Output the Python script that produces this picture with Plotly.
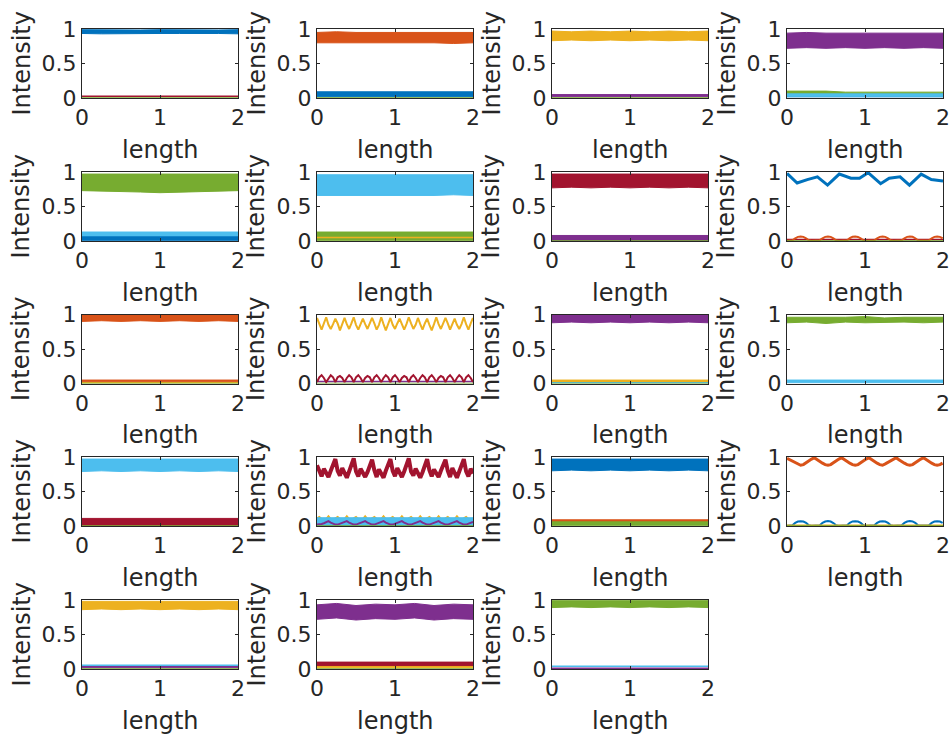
import numpy as np
import plotly.graph_objects as go

BLUE, ORANGE, YELLOW, PURPLE = "#0072BD", "#D95319", "#EDB120", "#7E2F8E"
GREEN, CYAN, RED = "#77AC30", "#4DBEEE", "#A2142F"

# sample positions
x_env = [0, 0.25, 0.5, 0.75, 1.0, 1.25, 1.5, 1.75, 2.0]
x_f69 = list(np.linspace(0, 2, 69))
x_f58 = list(np.linspace(0, 1.995, 58))

# ---------- noisy-band envelopes (upper / lower) ----------
p01_blue_hi = [0.99, 0.985, 0.99, 0.985, 0.99, 0.985, 0.99, 0.985, 0.99]
p01_blue_lo = [0.935, 0.93, 0.935, 0.93, 0.935, 0.935, 0.93, 0.935, 0.93]
p01_red = [0.025, 0.025, 0.025, 0.025, 0.025, 0.025, 0.025, 0.025, 0.025]
p01_green = [0, 0, 0, 0, 0, 0, 0, 0, 0]

p02_orange_hi = [0.95, 0.96, 0.95, 0.95, 0.96, 0.95, 0.95, 0.96, 0.95]
p02_orange_lo = [0.80, 0.79, 0.80, 0.80, 0.79, 0.80, 0.80, 0.79, 0.80]
p02_blue_hi = [0.09, 0.09, 0.09, 0.09, 0.09, 0.09, 0.09, 0.09, 0.09]
p02_blue_lo = [0.02, 0.02, 0.02, 0.02, 0.02, 0.02, 0.02, 0.02, 0.02]
p02_green = [0, 0, 0, 0, 0, 0, 0, 0, 0]

p03_yellow_hi = [0.97, 0.96, 0.97, 0.96, 0.97, 0.96, 0.97, 0.96, 0.97]
p03_yellow_lo = [0.83, 0.84, 0.83, 0.84, 0.83, 0.84, 0.83, 0.84, 0.83]
p03_purple_hi = [0.05, 0.05, 0.05, 0.05, 0.05, 0.05, 0.05, 0.05, 0.05]
p03_purple_lo = [0.02, 0.02, 0.02, 0.02, 0.02, 0.02, 0.02, 0.02, 0.02]
p03_green = [0, 0, 0, 0, 0, 0, 0, 0, 0]

p04_purple_hi = [0.94, 0.95, 0.94, 0.94, 0.95, 0.94, 0.94, 0.95, 0.94]
p04_purple_lo = [0.72, 0.73, 0.72, 0.73, 0.72, 0.73, 0.72, 0.73, 0.72]
p04_green_hi = [0.10, 0.10, 0.10, 0.085, 0.085, 0.085, 0.085, 0.085, 0.085]
p04_green_lo = [0.04, 0.04, 0.04, 0.04, 0.04, 0.04, 0.04, 0.04, 0.04]
p04_cyan_hi = [0.06, 0.06, 0.06, 0.06, 0.06, 0.06, 0.06, 0.06, 0.06]
p04_cyan_lo = [0.02, 0.02, 0.02, 0.02, 0.02, 0.02, 0.02, 0.02, 0.02]
p04_blue = [0.02, 0.02, 0.02, 0.02, 0.02, 0.02, 0.02, 0.02, 0.02]

p05_green_hi = [0.97, 0.97, 0.96, 0.96, 0.96, 0.96, 0.96, 0.97, 0.97]
p05_green_lo = [0.73, 0.72, 0.72, 0.71, 0.70, 0.70, 0.71, 0.72, 0.73]
p05_cyan_hi = [0.13, 0.13, 0.13, 0.13, 0.13, 0.13, 0.13, 0.13, 0.13]
p05_cyan_lo = [0.02, 0.02, 0.02, 0.02, 0.02, 0.02, 0.02, 0.02, 0.02]
p05_blue_hi = [0.06, 0.06, 0.06, 0.06, 0.06, 0.06, 0.06, 0.06, 0.06]
p05_blue_lo = [0.01, 0.01, 0.01, 0.01, 0.01, 0.01, 0.01, 0.01, 0.01]

p06_cyan_hi = [0.96, 0.96, 0.95, 0.96, 0.96, 0.95, 0.96, 0.96, 0.96]
p06_cyan_lo = [0.66, 0.67, 0.66, 0.66, 0.67, 0.66, 0.66, 0.67, 0.66]
p06_green_hi = [0.13, 0.13, 0.12, 0.12, 0.13, 0.12, 0.12, 0.13, 0.13]
p06_green_lo = [0.01, 0.01, 0.01, 0.01, 0.01, 0.01, 0.01, 0.01, 0.01]
p06_yellow = [0.05, 0.05, 0.05, 0.05, 0.05, 0.05, 0.05, 0.05, 0.05]

p07_red_hi = [0.97, 0.97, 0.97, 0.97, 0.97, 0.97, 0.97, 0.97, 0.97]
p07_red_lo = [0.77, 0.78, 0.77, 0.78, 0.77, 0.78, 0.77, 0.78, 0.77]
p07_purple_hi = [0.08, 0.08, 0.08, 0.08, 0.08, 0.08, 0.08, 0.08, 0.08]
p07_purple_lo = [0.01, 0.01, 0.01, 0.01, 0.01, 0.01, 0.01, 0.01, 0.01]
p07_green = [0, 0, 0, 0, 0, 0, 0, 0, 0]

# subplot 8: wavy blue trace and periodic orange humps
p08_blue_x = [0, 0.13, 0.26, 0.39, 0.52, 0.67, 0.82, 0.93, 1.04, 1.2, 1.31, 1.45, 1.57, 1.72, 1.85, 2.0]
p08_blue = [0.98, 0.84, 0.89, 0.93, 0.81, 0.97, 0.91, 0.91, 0.99, 0.83, 0.91, 0.93, 0.81, 0.97, 0.89, 0.87]
p08_orange = [0.005, 0.005, 0.01, 0.04, 0.06, 0.065, 0.06, 0.04, 0.01, 0.005,
              0.005, 0.006, 0.012, 0.04, 0.06, 0.066, 0.06, 0.038, 0.01, 0.005,
              0.005, 0.005, 0.01, 0.041, 0.061, 0.065, 0.059, 0.04, 0.011, 0.005,
              0.006, 0.005, 0.01, 0.04, 0.06, 0.064, 0.06, 0.04, 0.01, 0.005,
              0.005, 0.005, 0.011, 0.039, 0.06, 0.065, 0.061, 0.04, 0.01, 0.006,
              0.005, 0.005, 0.01, 0.04, 0.06, 0.065, 0.06, 0.04]
p08_red = [0.02, 0.02, 0.02, 0.02, 0.02, 0.02, 0.02, 0.02, 0.02]
p08_green = [0, 0, 0, 0, 0, 0, 0, 0, 0]

p09_orange_hi = [0.995, 0.995, 0.995, 0.995, 0.995, 0.995, 0.995, 0.995, 0.995]
p09_orange_lo = [0.90, 0.91, 0.90, 0.91, 0.90, 0.91, 0.90, 0.91, 0.90]
p09_orange2_hi = [0.05, 0.05, 0.05, 0.05, 0.05, 0.05, 0.05, 0.05, 0.05]
p09_orange2_lo = [0.025, 0.025, 0.025, 0.025, 0.025, 0.025, 0.025, 0.025, 0.025]
p09_yellow = [0.01, 0.01, 0.01, 0.01, 0.01, 0.01, 0.01, 0.01, 0.01]
p09_green = [0, 0, 0, 0, 0, 0, 0, 0, 0]

# subplot 10: fast oscillation
p10_yellow = [0.95, 0.86, 0.78, 0.87, 0.96, 0.85, 0.79, 0.86, 0.94, 0.87, 0.77, 0.86,
              0.95, 0.86, 0.79, 0.87, 0.96, 0.85, 0.78, 0.86, 0.94, 0.86, 0.79, 0.87,
              0.95, 0.87, 0.78, 0.85, 0.96, 0.86, 0.77, 0.86, 0.95, 0.85, 0.79, 0.87,
              0.94, 0.86, 0.78, 0.86, 0.96, 0.87, 0.79, 0.85, 0.95, 0.86, 0.78, 0.87,
              0.94, 0.85, 0.77, 0.86, 0.96, 0.86, 0.79, 0.87, 0.95, 0.87, 0.78, 0.86,
              0.94, 0.85, 0.79, 0.86, 0.96, 0.86, 0.78, 0.87, 0.95]
p10_red = [0.02, 0.09, 0.12, 0.08, 0.02, 0.08, 0.12, 0.09, 0.02, 0.09, 0.11, 0.08,
           0.02, 0.08, 0.12, 0.09, 0.02, 0.09, 0.12, 0.08, 0.02, 0.08, 0.11, 0.09,
           0.02, 0.09, 0.12, 0.08, 0.02, 0.08, 0.12, 0.09, 0.02, 0.09, 0.12, 0.08,
           0.02, 0.08, 0.11, 0.09, 0.02, 0.09, 0.12, 0.08, 0.02, 0.08, 0.12, 0.09,
           0.02, 0.09, 0.12, 0.08, 0.02, 0.08, 0.11, 0.09, 0.02, 0.09, 0.12, 0.08,
           0.02, 0.08, 0.12, 0.09, 0.02, 0.09, 0.12, 0.08, 0.02]
p10_purple = [0.03, 0.03, 0.03, 0.03, 0.03, 0.03, 0.03, 0.03, 0.03]
p10_green = [0, 0, 0, 0, 0, 0, 0, 0, 0]

p11_purple_hi = [0.985, 0.985, 0.985, 0.985, 0.985, 0.985, 0.985, 0.985, 0.985]
p11_purple_lo = [0.88, 0.89, 0.88, 0.89, 0.88, 0.89, 0.88, 0.89, 0.88]
p11_yellow_hi = [0.05, 0.05, 0.05, 0.05, 0.05, 0.05, 0.05, 0.05, 0.05]
p11_yellow_lo = [0.02, 0.02, 0.02, 0.02, 0.02, 0.02, 0.02, 0.02, 0.02]
p11_cyan = [0.01, 0.01, 0.01, 0.01, 0.01, 0.01, 0.01, 0.01, 0.01]
p11_green = [0, 0, 0, 0, 0, 0, 0, 0, 0]

p12_green_hi = [0.96, 0.96, 0.95, 0.96, 0.97, 0.95, 0.96, 0.96, 0.96]
p12_green_lo = [0.88, 0.89, 0.87, 0.89, 0.88, 0.88, 0.89, 0.88, 0.89]
p12_cyan_hi = [0.05, 0.05, 0.05, 0.05, 0.05, 0.05, 0.05, 0.05, 0.05]
p12_cyan_lo = [0.01, 0.01, 0.01, 0.01, 0.01, 0.01, 0.01, 0.01, 0.01]

p13_cyan_hi = [0.97, 0.97, 0.97, 0.97, 0.97, 0.97, 0.97, 0.97, 0.97]
p13_cyan_lo = [0.79, 0.80, 0.79, 0.80, 0.79, 0.80, 0.79, 0.80, 0.79]
p13_red_hi = [0.11, 0.11, 0.11, 0.11, 0.11, 0.11, 0.11, 0.11, 0.11]
p13_red_lo = [0.01, 0.01, 0.01, 0.01, 0.01, 0.01, 0.01, 0.01, 0.01]
p13_green = [0, 0, 0, 0, 0, 0, 0, 0, 0]

# subplot 14
p14_red = [0.88, 0.79, 0.72, 0.83, 0.76, 0.71, 0.80, 0.89,
           0.97, 0.80, 0.73, 0.84, 0.75, 0.70, 0.79, 0.88,
           0.98, 0.79, 0.72, 0.83, 0.76, 0.71, 0.78, 0.89,
           0.96, 0.81, 0.71, 0.82, 0.75, 0.70, 0.80, 0.88,
           0.97, 0.80, 0.72, 0.84, 0.76, 0.71, 0.79, 0.87,
           0.98, 0.79, 0.73, 0.83, 0.75, 0.70, 0.78, 0.89,
           0.97, 0.81, 0.72, 0.82, 0.76, 0.71, 0.80, 0.88,
           0.96, 0.80, 0.71, 0.84, 0.75, 0.70, 0.79, 0.89,
           0.97, 0.79, 0.72, 0.83, 0.76]
p14_purple = [0.02, 0.02, 0.03, 0.04, 0.06, 0.07, 0.05, 0.03,
              0.02, 0.02, 0.03, 0.04, 0.06, 0.07, 0.05, 0.03,
              0.02, 0.02, 0.03, 0.04, 0.06, 0.07, 0.05, 0.03,
              0.02, 0.02, 0.03, 0.04, 0.06, 0.07, 0.05, 0.03,
              0.02, 0.02, 0.03, 0.04, 0.06, 0.07, 0.05, 0.03,
              0.02, 0.02, 0.03, 0.04, 0.06, 0.07, 0.05, 0.03,
              0.02, 0.02, 0.03, 0.04, 0.06, 0.07, 0.05, 0.03,
              0.02, 0.02, 0.03, 0.04, 0.06, 0.07, 0.05, 0.03,
              0.02, 0.02, 0.03, 0.04, 0.06]
p14_yellow = [0.11, 0.13, 0.10, 0.09, 0.10, 0.14, 0.10, 0.09,
              0.11, 0.13, 0.10, 0.09, 0.10, 0.14, 0.10, 0.09,
              0.11, 0.13, 0.10, 0.09, 0.10, 0.14, 0.10, 0.09,
              0.11, 0.13, 0.10, 0.09, 0.10, 0.14, 0.10, 0.09,
              0.11, 0.13, 0.10, 0.09, 0.10, 0.14, 0.10, 0.09,
              0.11, 0.13, 0.10, 0.09, 0.10, 0.14, 0.10, 0.09,
              0.11, 0.13, 0.10, 0.09, 0.10, 0.14, 0.10, 0.09,
              0.11, 0.13, 0.10, 0.09, 0.10, 0.14, 0.10, 0.09,
              0.11, 0.13, 0.10, 0.09, 0.10]
p14_cyan_hi = [0.12, 0.12, 0.12, 0.12, 0.12, 0.12, 0.12, 0.12, 0.12]
p14_cyan_lo = [0.0, 0.0, 0.0, 0.0, 0.0, 0.0, 0.0, 0.0, 0.0]
p14_green = [0, 0, 0, 0, 0, 0, 0, 0, 0]

p15_blue_hi = [0.97, 0.97, 0.97, 0.97, 0.97, 0.97, 0.97, 0.97, 0.97]
p15_blue_lo = [0.80, 0.81, 0.80, 0.81, 0.80, 0.81, 0.80, 0.81, 0.80]
p15_orange_hi = [0.09, 0.09, 0.09, 0.09, 0.09, 0.09, 0.09, 0.09, 0.09]
p15_orange_lo = [0.04, 0.04, 0.04, 0.04, 0.04, 0.04, 0.04, 0.04, 0.04]
p15_green_hi = [0.06, 0.06, 0.06, 0.06, 0.06, 0.06, 0.06, 0.06, 0.06]
p15_green_lo = [0.01, 0.01, 0.01, 0.01, 0.01, 0.01, 0.01, 0.01, 0.01]

# subplot 16
p16_orange = [0.98, 0.96, 0.93, 0.91, 0.89, 0.88, 0.89, 0.92, 0.95, 0.97,
              0.99, 0.96, 0.93, 0.91, 0.89, 0.88, 0.89, 0.92, 0.95, 0.97,
              0.99, 0.96, 0.94, 0.91, 0.89, 0.88, 0.89, 0.92, 0.95, 0.97,
              0.99, 0.96, 0.93, 0.91, 0.89, 0.88, 0.90, 0.92, 0.95, 0.97,
              0.99, 0.96, 0.93, 0.91, 0.89, 0.88, 0.89, 0.92, 0.95, 0.97,
              0.99, 0.96, 0.93, 0.91, 0.89, 0.88, 0.89, 0.91]
p16_blue = [0.005, 0.005, 0.01, 0.045, 0.065, 0.07, 0.065, 0.045, 0.01, 0.005,
            0.005, 0.005, 0.012, 0.045, 0.065, 0.072, 0.065, 0.043, 0.01, 0.005,
            0.005, 0.005, 0.01, 0.046, 0.066, 0.07, 0.064, 0.045, 0.011, 0.005,
            0.006, 0.005, 0.01, 0.045, 0.065, 0.07, 0.065, 0.045, 0.01, 0.005,
            0.005, 0.005, 0.011, 0.044, 0.065, 0.071, 0.066, 0.045, 0.01, 0.006,
            0.005, 0.005, 0.01, 0.045, 0.065, 0.07, 0.065, 0.045]
p16_yellow = [0.01, 0.01, 0.01, 0.01, 0.01, 0.01, 0.01, 0.01, 0.01]
p16_green = [0, 0, 0, 0, 0, 0, 0, 0, 0]

p17_yellow_hi = [0.98, 0.98, 0.98, 0.98, 0.98, 0.98, 0.98, 0.98, 0.98]
p17_yellow_lo = [0.86, 0.87, 0.86, 0.87, 0.86, 0.87, 0.86, 0.87, 0.86]
p17_purple_hi = [0.05, 0.05, 0.05, 0.05, 0.05, 0.05, 0.05, 0.05, 0.05]
p17_purple_lo = [0.02, 0.02, 0.02, 0.02, 0.02, 0.02, 0.02, 0.02, 0.02]
p17_cyan = [0.055, 0.055, 0.055, 0.055, 0.055, 0.055, 0.055, 0.055, 0.055]
p17_green = [0, 0, 0, 0, 0, 0, 0, 0, 0]

p18_purple_hi = [0.93, 0.95, 0.92, 0.94, 0.93, 0.95, 0.92, 0.94, 0.93]
p18_purple_lo = [0.72, 0.74, 0.71, 0.73, 0.72, 0.74, 0.71, 0.73, 0.72]
p18_red_hi = [0.10, 0.10, 0.10, 0.10, 0.10, 0.10, 0.10, 0.10, 0.10]
p18_red_lo = [0.05, 0.05, 0.05, 0.05, 0.05, 0.05, 0.05, 0.05, 0.05]
p18_yellow_hi = [0.05, 0.05, 0.05, 0.05, 0.05, 0.05, 0.05, 0.05, 0.05]
p18_yellow_lo = [0.02, 0.02, 0.02, 0.02, 0.02, 0.02, 0.02, 0.02, 0.02]
p18_green = [0, 0, 0, 0, 0, 0, 0, 0, 0]

p19_green_hi = [0.99, 0.99, 0.99, 0.99, 0.99, 0.99, 0.99, 0.99, 0.99]
p19_green_lo = [0.89, 0.90, 0.89, 0.90, 0.89, 0.90, 0.89, 0.90, 0.89]
p19_cyan = [0.04, 0.04, 0.04, 0.04, 0.04, 0.04, 0.04, 0.04, 0.04]
p19_purple = [0.01, 0.01, 0.01, 0.01, 0.01, 0.01, 0.01, 0.01, 0.01]
p19_red = [0, 0, 0, 0, 0, 0, 0, 0, 0]

x_ticks = [0, 1, 2]
y_ticks = [0, 0.5, 1]
y_ticktext = ["0", "0.5", "1"]
x_title = "length"
y_title = "Intensity"

# ---------------------------------------------------------------------------
fig = go.Figure()


def ax(k):
    return ("x", "y") if k == 1 else (f"x{k}", f"y{k}")


def band(k, color, hi, lo, xs=x_env):
    xa, ya = ax(k)
    xs = list(xs)
    fig.add_trace(go.Scatter(x=xs + xs[::-1], y=list(hi) + list(lo)[::-1],
                             fill="toself", fillcolor=color, mode="lines",
                             line=dict(color=color, width=1),
                             xaxis=xa, yaxis=ya, hoverinfo="skip", showlegend=False))


def line(k, color, ys, xs=x_env, w=1.5):
    xa, ya = ax(k)
    fig.add_trace(go.Scatter(x=list(xs), y=list(ys), mode="lines",
                             line=dict(color=color, width=w),
                             xaxis=xa, yaxis=ya, hoverinfo="skip", showlegend=False))


band(1, BLUE, p01_blue_hi, p01_blue_lo); line(1, RED, p01_red); line(1, GREEN, p01_green)
band(2, BLUE, p02_blue_hi, p02_blue_lo); band(2, ORANGE, p02_orange_hi, p02_orange_lo); line(2, GREEN, p02_green)
band(3, YELLOW, p03_yellow_hi, p03_yellow_lo); band(3, PURPLE, p03_purple_hi, p03_purple_lo); line(3, GREEN, p03_green)
line(4, BLUE, p04_blue); band(4, PURPLE, p04_purple_hi, p04_purple_lo); band(4, GREEN, p04_green_hi, p04_green_lo); band(4, CYAN, p04_cyan_hi, p04_cyan_lo)
band(5, GREEN, p05_green_hi, p05_green_lo); band(5, CYAN, p05_cyan_hi, p05_cyan_lo); band(5, BLUE, p05_blue_hi, p05_blue_lo)
band(6, GREEN, p06_green_hi, p06_green_lo); band(6, CYAN, p06_cyan_hi, p06_cyan_lo); line(6, YELLOW, p06_yellow)
band(7, PURPLE, p07_purple_hi, p07_purple_lo); band(7, RED, p07_red_hi, p07_red_lo); line(7, GREEN, p07_green)
line(8, BLUE, p08_blue, xs=p08_blue_x, w=3); line(8, RED, p08_red); line(8, ORANGE, p08_orange, xs=x_f58, w=2); line(8, GREEN, p08_green)
band(9, ORANGE, p09_orange_hi, p09_orange_lo); band(9, ORANGE, p09_orange2_hi, p09_orange2_lo); line(9, YELLOW, p09_yellow); line(9, GREEN, p09_green)
line(10, YELLOW, p10_yellow, xs=x_f69, w=2); line(10, PURPLE, p10_purple); line(10, GREEN, p10_green); line(10, RED, p10_red, xs=x_f69, w=2)
band(11, PURPLE, p11_purple_hi, p11_purple_lo); band(11, YELLOW, p11_yellow_hi, p11_yellow_lo); line(11, CYAN, p11_cyan); line(11, GREEN, p11_green)
band(12, GREEN, p12_green_hi, p12_green_lo); band(12, CYAN, p12_cyan_hi, p12_cyan_lo)
band(13, CYAN, p13_cyan_hi, p13_cyan_lo); band(13, RED, p13_red_hi, p13_red_lo); line(13, GREEN, p13_green)
line(14, YELLOW, p14_yellow, xs=x_f69, w=2); band(14, CYAN, p14_cyan_hi, p14_cyan_lo); line(14, PURPLE, p14_purple, xs=x_f69, w=2); line(14, GREEN, p14_green); line(14, RED, p14_red, xs=x_f69, w=4)
band(15, BLUE, p15_blue_hi, p15_blue_lo); band(15, ORANGE, p15_orange_hi, p15_orange_lo); band(15, GREEN, p15_green_hi, p15_green_lo)
line(16, BLUE, p16_blue, xs=x_f58, w=2); line(16, ORANGE, p16_orange, xs=x_f58, w=3); line(16, YELLOW, p16_yellow); line(16, GREEN, p16_green)
band(17, YELLOW, p17_yellow_hi, p17_yellow_lo); band(17, PURPLE, p17_purple_hi, p17_purple_lo); line(17, CYAN, p17_cyan); line(17, GREEN, p17_green)
band(18, PURPLE, p18_purple_hi, p18_purple_lo); band(18, YELLOW, p18_yellow_hi, p18_yellow_lo); band(18, RED, p18_red_hi, p18_red_lo); line(18, GREEN, p18_green)
line(19, RED, p19_red); band(19, GREEN, p19_green_hi, p19_green_lo); line(19, PURPLE, p19_purple); line(19, CYAN, p19_cyan)

# ---------------------------------------------------------------------------
W, H = 952, 738
LEFTS = [82, 317, 552, 787]
TOPS = [29, 172, 314.5, 457, 600]
PW, PH = 156, 69
AXC = "#262626"
FONT = "DejaVu Sans"

layout = dict(width=W, height=H, margin=dict(l=0, r=0, t=0, b=0, autoexpand=False),
              paper_bgcolor="white", plot_bgcolor="white", showlegend=False,
              font=dict(family=FONT, color=AXC))
annotations = []
for k in range(1, 20):
    r, c = (k - 1) // 4, (k - 1) % 4
    l, t = LEFTS[c], TOPS[r]
    xs = "" if k == 1 else str(k)
    common = dict(showline=True, linecolor=AXC, linewidth=1, mirror="ticks",
                  ticks="inside", ticklen=3, tickcolor=AXC, showgrid=False,
                  zeroline=False, automargin=False,
                  tickfont=dict(family=FONT, size=22, color=AXC))
    layout["xaxis" + xs] = dict(domain=[l / W, (l + PW) / W], anchor="y" + xs,
                                range=[0, 2], tickvals=x_ticks, **common)
    layout["yaxis" + xs] = dict(domain=[1 - (t + PH) / H, 1 - t / H], anchor="x" + xs,
                                range=[0, 1], tickvals=y_ticks, ticktext=y_ticktext, **common)
    annotations.append(dict(text=x_title, xref=f"x{xs} domain", yref=f"y{xs} domain",
                            x=0.5, y=0, yshift=-52, xanchor="center", yanchor="middle",
                            showarrow=False, font=dict(family=FONT, size=24, color=AXC)))
    annotations.append(dict(text=y_title, xref=f"x{xs} domain", yref=f"y{xs} domain",
                            x=0, y=0.5, xshift=-61, xanchor="center", yanchor="middle",
                            textangle=-90, showarrow=False,
                            font=dict(family=FONT, size=24, color=AXC)))
layout["annotations"] = annotations
fig.update_layout(**layout)
fig.write_html("out.html")
